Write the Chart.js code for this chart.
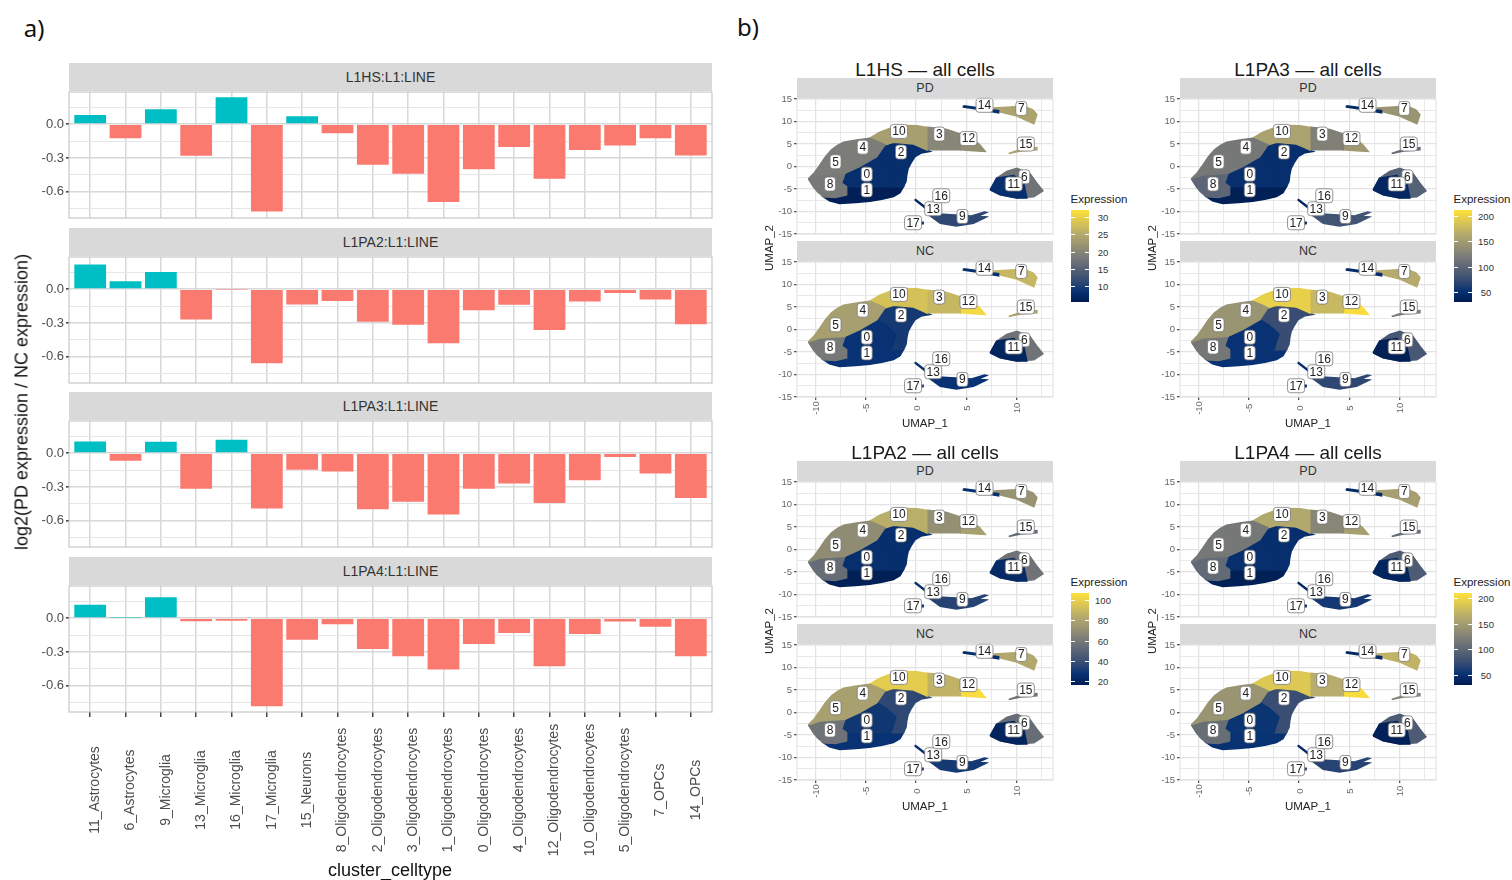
<!DOCTYPE html>
<html>
<head>
<meta charset="utf-8">
<title>L1 expression</title>
<script src="https://cdn.jsdelivr.net/npm/chart.js@4"></script>
<style>
  body { margin: 0; background: #fff; font-family: "Liberation Sans", sans-serif; }
  canvas { position: absolute; }
  .t { position: absolute; transform: translate(-50%, -50%); white-space: nowrap; }
  .strip { position: absolute; background: #d9d9d9; color: #333; text-align: center; }
</style>
</head>
<body>
<script>
// ---- panel a) bars
var categories = ['11_Astrocytes', '6_Astrocytes', '9_Microglia', '13_Microglia', '16_Microglia', '17_Microglia', '15_Neurons',
  '8_Oligodendrocytes', '2_Oligodendrocytes', '3_Oligodendrocytes', '1_Oligodendrocytes', '0_Oligodendrocytes', '4_Oligodendrocytes',
  '12_Oligodendrocytes', '10_Oligodendrocytes', '5_Oligodendrocytes', '7_OPCs', '14_OPCs'];
var l1hsFold = [0.082, -0.124, 0.132, -0.28, 0.238, -0.774, 0.07, -0.08, -0.36, -0.44, -0.69, -0.40, -0.203, -0.485, -0.23, -0.19, -0.124, -0.277];
var l1pa2Fold = [0.218, 0.07, 0.153, -0.27, -0.003, -0.656, -0.135, -0.106, -0.288, -0.315, -0.48, -0.188, -0.138, -0.362, -0.109, -0.035, -0.091, -0.312];
var l1pa3Fold = [0.103, -0.068, 0.1, -0.315, 0.118, -0.491, -0.147, -0.162, -0.497, -0.43, -0.544, -0.315, -0.27, -0.441, -0.241, -0.035, -0.18, -0.397];
var l1pa4Fold = [0.118, 0.004, 0.185, -0.027, -0.024, -0.782, -0.191, -0.053, -0.274, -0.338, -0.456, -0.229, -0.132, -0.426, -0.141, -0.03, -0.076, -0.338];
var foldTicks = [-0.75, -0.6, -0.45, -0.3, -0.15, 0, 0.15];
var foldLabels = [-0.6, -0.3, 0];

// ---- panel b) umap, cluster outlines as [x, y]
var r4_5 = [[-10.7,-2.75],[-10.1,-1.4],[-9.55,0.37],[-9,2.2],[-8.4,3.7],[-7.8,4.7],[-7.2,5.4],[-5.9,5.9],[-4.6,6.3],[-3.9,5.6],[-3.1,4.8],[-3.9,2.2],[-5.6,0],[-7.06,-1.5],[-9.55,-1.9]];
var r8 = [[-10.7,-2.75],[-9.55,-1.9],[-7.06,-1.5],[-7.4,-3.7],[-6.9,-4.5],[-6.9,-6.3],[-8,-6.9],[-9.2,-6.7],[-9.8,-5.6],[-10.2,-4.5]];
var r10 = [[-4.6,6.3],[-3.6,7.6],[-2.3,8.7],[-1,9.1],[0.07,9.07],[1.06,8.7],[1.06,3.7],[-0.26,5],[-2.25,5.4],[-3.1,4.8],[-3.9,5.6]];
var r3 = [[1.06,8.7],[2.2,8.5],[3.05,8.2],[4.4,7.2],[4.4,3.7],[1.06,3.7]];
var r12 = [[4.4,7.2],[5.2,6.6],[5.7,5.95],[6.3,4.9],[6.87,3.35],[5.7,3.5],[4.4,3.7]];
var r0 = [[-7.06,-1.5],[-5.6,0],[-3.9,2.2],[-3,1],[-2,-1],[-2.5,-4.5],[-6.9,-4.5],[-7.4,-3.7]];
var r2 = [[-3.1,4.8],[-2.25,5.4],[-0.26,5],[1.06,3.7],[1.4,3.35],[0.5,3],[-0.1,2.2],[-0.5,0.8],[-0.8,-0.5],[-0.93,-1.9],[-1,-3.3],[-1.26,-4.5],[-2.5,-4.5],[-2,-1],[-3,1],[-3.9,2.2]];
var r1 = [[-6.9,-4.5],[-1.26,-4.5],[-1.6,-5.8],[-2.25,-6.7],[-3.4,-7.3],[-4.6,-7.7],[-6,-8],[-7.6,-8.2],[-8.6,-7.6],[-9.2,-6.7],[-8,-6.9],[-6.9,-6.3]];
var r14 = [[4.7,13.5],[6,13.1],[8.2,12.4],[8.2,11.9],[6,12.8],[4.7,13.2]];
var r7 = [[7.7,13],[10.7,13.4],[11.6,12.6],[12,11.5],[11.7,9.5],[10,11.2],[8.4,12.1]];
var r15 = [[9.2,2.9],[10.5,3.9],[12,4.2],[12,3.7],[10.5,3.5]];
var r11 = [[7.36,-5.2],[8,-2.6],[9.7,-2],[10.7,-3.7],[11,-7],[10,-7],[8.36,-6.3]];
var r6 = [[7.36,-5.2],[8,-2.6],[9,-1.1],[10,-0.4],[11.3,-1.5],[12,-3.7],[12.6,-5.4],[11.7,-6.7],[10,-7],[8.36,-6.3]];
var r9 = [[1.06,-10.4],[2.7,-10.6],[5.5,-11],[6.8,-10.1],[7,-10.2],[6.2,-11],[7,-11.2],[5.7,-12.6],[4,-13.2],[2.4,-12.6]];
var r13 = [[-0.1,-7.25],[1.4,-9.8],[1.4,-10.1],[-0.1,-7.5]];
var r17 = [[0.4,-12.4],[0.7,-12.4],[0.7,-12.7],[0.4,-12.7]];
var regionShapes = [r4_5, r8, r10, r3, r12, r0, r2, r1, r14, r7, r15, r11, r6, r9, r13, r17];

// expression of each region above, PD and NC
var l1hsPD = [18.7, 18.2, 23.5, 20, 21.4, 8, 8, 6, 8, 24, 24, 8, 17.4, 11.3, 6.7, 8];
var l1hsNC = [23.5, 18.2, 28, 26.7, 31, 8.6, 9.5, 8.6, 8, 26.7, 24, 6.7, 17.4, 8.6, 8, 10.7];
var l1pa3PD = [117, 99, 157, 125, 148, 48, 48, 34, 45, 143, 103, 41, 94, 81, 39, 48];
var l1pa3NC = [143, 116, 197, 176, 208, 52, 75, 52, 45, 165, 120, 34, 85, 70, 48, 48];
var l1pa2PD = [69, 54, 85, 71, 78, 25, 25, 18, 25, 72, 52, 23, 57, 34, 25, 25];
var l1pa2NC = [78, 57, 98, 87, 105, 29, 36, 27, 25, 82, 57, 20, 54, 30, 25, 34];
var l1pa4PD = [116, 102, 160, 129, 152, 48, 48, 34, 44, 152, 102, 39, 88, 57, 39, 48];
var l1pa4NC = [142, 106, 188, 165, 206, 53, 75, 52, 44, 170, 129, 35, 88, 66, 44, 66];

var clusterIds = ['0', '1', '2', '3', '4', '5', '6', '7', '8', '9', '10', '11', '12', '13', '14', '15', '16', '17'];
var clusterX = [-4.9, -4.9, -1.5, 2.3, -5.3, -8, 10.75, 10.45, -8.55, 4.6, -1.7, 9.7, 5.2, 1.7, 6.8, 10.9, 2.5, -0.3];
var clusterY = [-1.7, -5.2, 3.2, 7.2, 4.3, 1.04, -2.3, 12.9, -3.9, -11.1, 7.8, -3.9, 6.2, -9.4, 13.6, 5, -6.5, -12.5];

var umapMajor = [-10, -5, 0, 5, 10];
var umapMinorX = [-7.5, -2.5, 2.5, 7.5, 12.5];
var umapYMajor = [-15, -10, -5, 0, 5, 10, 15];
var umapYMinor = [-12.5, -7.5, -2.5, 2.5, 7.5, 12.5];

var l1hsLegend = [10, 15, 20, 25, 30];
var l1pa3Legend = [50, 100, 150, 200];
var l1pa2Legend = [20, 40, 60, 80, 100];
var l1pa4Legend = [50, 100, 150, 200];

var colourStops = [0, 0.12, 0.25, 0.5, 0.75, 1];
var colourRgb = [[0, 28, 80], [8, 50, 115], [58, 78, 115], [124, 124, 120], [184, 173, 108], [255, 225, 58]];

function colourAt(t) {
  t = Math.max(0, Math.min(1, t));
  var i = 0;
  while (i < colourStops.length - 2 && t > colourStops[i + 1]) i++;
  var f = (t - colourStops[i]) / (colourStops[i + 1] - colourStops[i]);
  var c = colourRgb[i].map(function (v, k) { return Math.round(v + (colourRgb[i + 1][k] - v) * f); });
  return 'rgb(' + c.join(',') + ')';
}

function addText(txt, x, y, css) {
  var d = document.createElement('div');
  d.className = 't';
  d.textContent = txt;
  d.style.cssText = 'left:' + x + 'px;top:' + y + 'px;' + css;
  document.body.appendChild(d);
  return d;
}

function addStrip(txt, x, y, w, h, size) {
  var d = document.createElement('div');
  d.className = 'strip';
  d.textContent = txt;
  d.style.cssText = 'left:' + x + 'px;top:' + y + 'px;width:' + w + 'px;height:' + h + 'px;line-height:' + h + 'px;font-size:' + size + 'px;';
  document.body.appendChild(d);
}

function addCanvas(x, y, w, h) {
  var c = document.createElement('canvas');
  c.width = w;
  c.height = h;
  c.style.left = x + 'px';
  c.style.top = y + 'px';
  document.body.appendChild(c);
  return c.getContext('2d');
}

// box round the plot area, grid is under the bars so this goes on last
var panelBox = {
  id: 'panelBox',
  afterDraw: function (chart, args, opts) {
    var a = chart.chartArea, ctx = chart.ctx;
    ctx.save();
    ctx.strokeStyle = opts.color;
    ctx.lineWidth = 1;
    ctx.strokeRect(a.left, a.top, a.right - a.left, a.bottom - a.top);
    ctx.restore();
  }
};

// ggplot centres rotated labels, chart.js hangs them from the axis, so move them
var centreXLabels = {
  id: 'centreXLabels',
  afterLayout: function (chart, args, opts) {
    if (!opts.y) return;
    chart.scales.x.getLabelItems().forEach(function (item) {
      item.options.textAlign = 'center';
      item.options.translation[0] += opts.dx;
      item.options.translation[1] = opts.y;
    });
  }
};

var clusterTags = {
  id: 'clusterTags',
  afterDatasetsDraw: function (chart) {
    var ctx = chart.ctx, sx = chart.scales.x, sy = chart.scales.y;
    ctx.save();
    ctx.font = '12px "Liberation Sans"';
    ctx.textAlign = 'center';
    ctx.textBaseline = 'middle';
    clusterIds.forEach(function (id, i) {
      var px = sx.getPixelForValue(clusterX[i]), py = sy.getPixelForValue(clusterY[i]);
      var w = id.length > 1 ? 17 : 11;
      ctx.beginPath();
      ctx.roundRect(px - w / 2, py - 7, w, 14, 3);
      ctx.fillStyle = '#fff';
      ctx.fill();
      ctx.strokeStyle = '#777';
      ctx.lineWidth = 0.8;
      ctx.stroke();
      ctx.fillStyle = '#222';
      ctx.fillText(id, px, py + 0.5);
    });
    ctx.restore();
  }
};

function noPadding(s) {
  s.paddingTop = 0;
  s.paddingBottom = 0;
  s.paddingLeft = 0;
  s.paddingRight = 0;
}

var edge = 7; // spare room round each canvas so the end tick labels are not cut

function barPanel(name, values, top, last) {
  var stripH = 28, panelH = 126, left = 69, panelW = 643, axisW = 40;
  var bottom = last ? 150 : 0;
  addStrip(name, left, top - stripH - 1, panelW, stripH, 14);
  new Chart(addCanvas(left - axisW, top - edge, panelW + axisW + 2, panelH + bottom + 2 * edge), {
    type: 'bar',
    data: {
      datasets: [{
        data: values.map(function (v, i) { return { x: i + 1, y: v }; }),
        backgroundColor: values.map(function (v) { return v >= 0 ? '#00BFC4' : '#FB7A70'; }),
        barPercentage: 0.9,
        categoryPercentage: 1
      }]
    },
    options: {
      responsive: false,
      animation: false,
      layout: { autoPadding: false, padding: { top: edge, right: 2, bottom: edge } },
      plugins: {
        legend: { display: false },
        tooltip: { enabled: false },
        panelBox: { color: '#bdbdbd' },
        centreXLabels: { y: last ? panelH + edge + 78 : 0, dx: 5 }
      },
      scales: {
        x: {
          type: 'linear',
          offset: false,
          min: 0.4,
          max: 18.6,
          afterBuildTicks: function (s) { s.ticks = categories.map(function (c, i) { return { value: i + 1 }; }); },
          afterFit: function (s) { s.height = bottom; noPadding(s); },
          border: { display: false },
          grid: { offset: false, color: '#d8d8d8', lineWidth: 1.5, tickLength: last ? 5 : 0, tickColor: '#444', drawTicks: last },
          ticks: {
            display: last,
            autoSkip: false,
            minRotation: 90,
            maxRotation: 90,
            color: '#4d4d4d',
            font: { family: 'Liberation Sans', size: 14 },
            callback: function (v) { return categories[v - 1]; }
          }
        },
        y: {
          min: -0.832,
          max: 0.285,
          afterBuildTicks: function (s) { s.ticks = foldTicks.map(function (v) { return { value: v }; }); },
          afterFit: function (s) { s.width = axisW; noPadding(s); },
          border: { display: false },
          grid: {
            color: function (c) { return foldLabels.indexOf(c.tick.value) >= 0 ? '#d8d8d8' : '#e6e6e6'; },
            lineWidth: function (c) { return foldLabels.indexOf(c.tick.value) >= 0 ? 1.6 : 1; },
            tickColor: function (c) { return foldLabels.indexOf(c.tick.value) >= 0 ? '#444' : 'transparent'; },
            tickLength: 3
          },
          ticks: {
            autoSkip: false,
            color: '#4d4d4d',
            padding: 2,
            font: { family: 'Liberation Sans', size: 13 },
            callback: function (v) { return foldLabels.indexOf(v) >= 0 ? v.toFixed(1) : ''; }
          }
        }
      }
    },
    plugins: [panelBox, centreXLabels]
  });
}

function umapPanel(values, minV, maxV, left, top, showX) {
  var panelW = 256, panelH = 135, axisW = 30;
  var bottom = showX ? 24 : 0;
  new Chart(addCanvas(left - axisW, top - edge, panelW + axisW + 2, panelH + bottom + 2 * edge), {
    type: 'scatter',
    data: {
      datasets: regionShapes.map(function (shape, i) {
        var col = colourAt((values[i] - minV) / (maxV - minV));
        return {
          data: shape.concat([shape[0]]).map(function (p) { return { x: p[0], y: p[1] }; }),
          showLine: true,
          fill: 'shape',
          backgroundColor: col,
          borderColor: col,
          borderWidth: 1.5,
          pointRadius: 0
        };
      })
    },
    options: {
      responsive: false,
      animation: false,
      layout: { autoPadding: false, padding: { top: edge, right: 2, bottom: edge } },
      plugins: {
        legend: { display: false },
        tooltip: { enabled: false },
        panelBox: { color: '#e0e0e0' },
        centreXLabels: { y: showX ? panelH + edge + 11 : 0, dx: 1 }
      },
      scales: {
        x: {
          min: -11.83,
          max: 13.6,
          afterBuildTicks: function (s) { s.ticks = umapMajor.concat(umapMinorX).map(function (v) { return { value: v }; }); },
          afterFit: function (s) { s.height = bottom; noPadding(s); },
          border: { display: false },
          grid: {
            color: '#e3e3e3',
            lineWidth: function (c) { return umapMajor.indexOf(c.tick.value) >= 0 ? 1.3 : 0.8; },
            tickColor: function (c) { return showX && umapMajor.indexOf(c.tick.value) >= 0 ? '#555' : 'transparent'; },
            tickLength: showX ? 3 : 0
          },
          ticks: {
            display: showX,
            autoSkip: false,
            minRotation: 90,
            maxRotation: 90,
            padding: 2,
            color: '#666',
            font: { family: 'Liberation Sans', size: 9.5 },
            callback: function (v) { return umapMajor.indexOf(v) >= 0 ? String(v) : ''; }
          }
        },
        y: {
          min: -15,
          max: 15,
          afterBuildTicks: function (s) { s.ticks = umapYMajor.concat(umapYMinor).map(function (v) { return { value: v }; }); },
          afterFit: function (s) { s.width = axisW; noPadding(s); },
          border: { display: false },
          grid: {
            color: '#e3e3e3',
            lineWidth: function (c) { return umapYMajor.indexOf(c.tick.value) >= 0 ? 1.3 : 0.8; },
            tickColor: function (c) { return umapYMajor.indexOf(c.tick.value) >= 0 ? '#555' : 'transparent'; },
            tickLength: 3
          },
          ticks: {
            autoSkip: false,
            padding: 2,
            color: '#666',
            font: { family: 'Liberation Sans', size: 9.5 },
            callback: function (v) { return umapYMajor.indexOf(v) >= 0 ? String(v) : ''; }
          }
        }
      }
    },
    plugins: [panelBox, clusterTags, centreXLabels]
  });
}

function umapGroup(title, pd, nc, minV, maxV, legendTicks, left, top) {
  var w = 256;
  addText(title, left + w / 2, top - 29, 'font-size:19px;color:#1a1a1a;');
  addStrip('PD', left, top - 21, w, 20, 12.5);
  umapPanel(pd, minV, maxV, left, top, false);
  addStrip('NC', left, top + 142, w, 20, 12.5);
  umapPanel(nc, minV, maxV, left, top + 163, true);
  addText('UMAP_1', left + w / 2, top + 324, 'font-size:11.5px;color:#222;');
  addText('UMAP_2', left - 28, top + 149, 'font-size:11.5px;color:#222;transform:translate(-50%,-50%) rotate(-90deg);');

  // colour bar
  var barX = left + 274, barY = top + 111, barH = 92;
  addText('Expression', barX + 28, barY - 11, 'font-size:11.5px;color:#222;');
  var bar = document.createElement('div');
  bar.style.cssText = 'position:absolute;left:' + barX + 'px;top:' + barY + 'px;width:18px;height:' + barH + 'px;background:linear-gradient(to top,' +
    colourRgb.map(function (c, i) { return 'rgb(' + c.join(',') + ') ' + colourStops[i] * 100 + '%'; }).join(',') + ');';
  document.body.appendChild(bar);
  legendTicks.forEach(function (v) {
    var y = barY + (maxV - v) / (maxV - minV) * barH;
    addText(String(v), barX + 32, y, 'font-size:9.5px;color:#333;');
    var m = document.createElement('div');
    m.style.cssText = 'position:absolute;left:' + barX + 'px;top:' + y + 'px;width:18px;height:1px;background:linear-gradient(to right,#fff 20%,transparent 20%,transparent 80%,#fff 80%);';
    document.body.appendChild(m);
  });
}

addText('a)', 34, 27, 'font-family:"Noto Sans";font-size:24px;color:#111;');
addText('b)', 748, 26, 'font-family:"Noto Sans";font-size:24px;color:#111;');

barPanel('L1HS:L1:LINE', l1hsFold, 92, false);
barPanel('L1PA2:L1:LINE', l1pa2Fold, 257, false);
barPanel('L1PA3:L1:LINE', l1pa3Fold, 421, false);
barPanel('L1PA4:L1:LINE', l1pa4Fold, 586, true);
addText('log2(PD expression / NC expression)', 22, 402, 'font-size:18px;color:#111;transform:translate(-50%,-50%) rotate(-90deg);');
addText('cluster_celltype', 390, 870, 'font-size:18px;color:#111;');

umapGroup('L1HS — all cells', l1hsPD, l1hsNC, 5.4, 32, l1hsLegend, 797, 99);
umapGroup('L1PA3 — all cells', l1pa3PD, l1pa3NC, 30, 212, l1pa3Legend, 1180, 99);
umapGroup('L1PA2 — all cells', l1pa2PD, l1pa2NC, 16, 107, l1pa2Legend, 797, 482);
umapGroup('L1PA4 — all cells', l1pa4PD, l1pa4NC, 30, 210, l1pa4Legend, 1180, 482);
</script>
</body>
</html>
